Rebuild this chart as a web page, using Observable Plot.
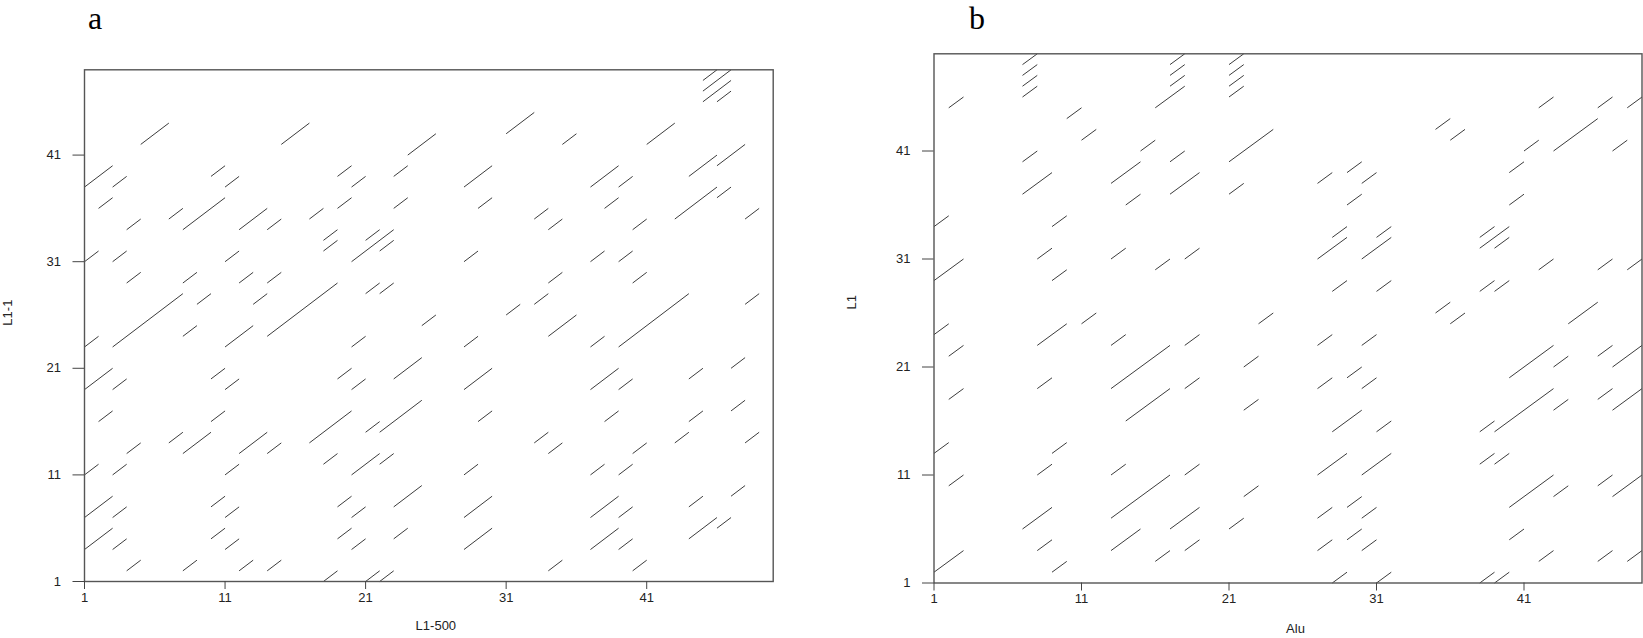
<!DOCTYPE html>
<html><head><meta charset="utf-8">
<script src="https://cdn.jsdelivr.net/npm/d3@7"></script>
<script src="https://cdn.jsdelivr.net/npm/@observablehq/plot@0.6"></script>
<style>
body{margin:0;background:#fff;}
#wrap{position:relative;width:1643px;height:638px;overflow:hidden;background:#fff;}
.panel{position:absolute;top:0;}
.letter{position:absolute;top:1px;font-family:"Liberation Serif",serif;font-size:32px;line-height:35.5px;color:#000;}
</style></head><body>
<div id="wrap">
<div class="letter" style="left:88px">a</div>
<div class="letter" style="left:969px">b</div>
</div>
<script>
// Tick values shared by both panels
const tickValues = [1, 11, 21, 31, 41];

// Panel a: L1-500 (x) vs L1-1 (y); each match is a diagonal from (x, y) to (x+len, y+len)
const aLabelX = "L1-500";
const aLabelY = "L1-1";
const aX = [5,15,24,1,3,2,10,11,4,7,8,12,14,17,19,20,19,23,23,18,18,21,20,22,1,3,11,4,8,12,14,9,13,21,22,3,14,25,
  1,8,11,20,1,3,10,11,19,20,23,2,10,17,21,22,7,8,4,12,14,18,20,22,1,3,11,1,3,10,11,19,20,23,1,3,10,11,19,20,23,4,8,12,14,18,21,22,
  31,35,41,28,29,33,34,37,39,38,40,44,46,43,46,48,28,37,39,34,40,31,33,34,39,48,45,45,45,46,
  28,37,28,37,39,44,47,29,38,44,47,33,34,40,43,48,28,37,39,28,37,39,44,47,28,37,39,44,46,34,40];
const aY = [42,42,41,38,38,36,39,38,34,35,34,34,34,35,39,38,36,39,36,33,32,33,31,32,31,31,31,29,29,29,29,27,27,28,28,23,24,25,
  23,24,23,23,19,19,20,19,20,19,20,16,16,14,15,15,14,13,13,13,13,12,11,12,11,11,11,7,7,8,7,8,7,8,4,4,5,4,5,4,5,2,2,2,2,1,1,1,
  43,42,42,38,36,35,34,38,38,36,34,39,40,35,37,35,31,31,31,29,29,26,27,24,23,27,48,47,46,46,
  23,23,19,19,19,20,21,16,16,16,17,14,13,13,14,14,11,11,11,7,7,7,8,9,4,4,4,5,6,2,2];
const aLen = [2,2,2,2,1,1,1,1,1,1,3,2,1,1,1,1,1,1,1,1,1,1,3,1,1,1,1,1,1,1,1,1,1,1,1,5,5,1,
  1,1,2,1,2,1,1,1,1,1,2,1,1,3,1,3,1,2,1,2,1,1,2,1,1,1,1,2,1,1,1,1,1,2,2,1,1,1,1,1,1,1,1,1,1,1,1,1,
  2,1,2,2,1,1,1,2,1,1,1,2,2,3,1,1,1,1,1,1,1,1,1,2,5,1,1,2,2,1,
  1,1,2,2,1,1,1,1,1,1,1,1,1,1,1,1,1,1,1,2,2,1,1,1,2,2,1,2,1,1,1];

// Panel b: Alu (x) vs L1 (y)
const bLabelX = "Alu";
const bLabelY = "L1";
const bX = [7,7,7,7,17,17,17,16,21,21,21,21,2,10,11,15,7,17,21,7,13,17,14,21,1,9,1,8,13,16,18,9,
  42,46,48,35,36,41,43,47,40,40,27,29,30,29,28,27,31,30,38,38,39,28,31,38,39,42,46,48,35,36,44,
  1,2,2,8,11,13,13,14,18,18,8,23,22,22,1,9,2,8,13,18,13,17,22,7,21,8,13,18,16,9,1,
  27,30,29,27,30,28,31,27,30,27,29,30,27,29,30,28,31,38,39,38,39,40,43,46,47,43,46,47,40,43,46,47,40,42,46,48,38,39];
const bY = [49,48,47,46,49,48,47,45,49,48,47,46,45,44,42,41,40,40,40,37,38,37,36,37,34,34,29,31,31,30,31,29,
  45,45,45,43,42,41,41,41,39,36,38,39,38,36,33,31,33,31,33,32,32,28,28,28,28,30,30,30,26,25,25,
  24,22,18,23,25,23,19,16,23,19,19,25,21,17,13,13,10,11,11,11,7,6,9,6,6,4,4,4,3,2,2,
  23,23,20,19,19,15,15,11,11,7,8,7,4,5,4,1,1,15,15,12,12,20,21,22,21,17,18,17,8,9,10,9,5,3,3,3,1,1];
const bLen = [1,1,1,1,1,1,1,2,1,1,1,1,1,1,1,1,1,1,3,2,2,2,1,1,1,1,2,1,1,1,1,1,
  1,1,1,1,1,1,3,1,1,1,1,1,1,1,1,2,1,2,1,2,1,1,1,1,1,1,1,1,1,1,2,
  1,1,1,2,1,1,4,3,1,1,1,1,1,1,1,1,1,1,1,1,4,2,1,2,1,1,2,1,1,1,2,
  1,1,1,1,1,2,1,2,2,1,1,1,1,1,1,1,1,1,4,1,1,3,1,1,2,1,1,2,3,1,1,2,1,1,1,1,1,1];

function toSegs(xs, ys, ls) {
  return xs.map((x, i) => ({x1: x, y1: ys[i], x2: x + ls[i], y2: ys[i] + ls[i]}));
}

function panel(o) {
  return Plot.plot({
    width: o.width, height: o.height,
    marginLeft: o.ml, marginRight: o.mr, marginTop: o.mt, marginBottom: o.mb,
    style: {fontFamily: '"Liberation Sans", Arial, sans-serif', fontSize: "13px", color: "#222", background: "transparent", overflow: "visible"},
    x: {domain: o.xDomain},
    y: {domain: o.yDomain},
    marks: [
      Plot.link(o.segs, {x1: "x1", y1: "y1", x2: "x2", y2: "y2", stroke: "#3c3c3c", strokeWidth: 1}),
      Plot.frame({stroke: "#555", strokeWidth: 1.4}),
      Plot.axisX({ticks: tickValues, tickFormat: d => String(d), tickSize: 8, tickPadding: 3, label: null, stroke: "#444"}),
      Plot.axisY({ticks: tickValues, tickFormat: d => String(d), tickSize: 11.5, tickPadding: 12, label: null, stroke: "#444"}),
      Plot.text([o.xLabel], {text: d => d, frameAnchor: "bottom", dx: o.xdx, dy: o.xdy, fill: "#222"}),
      Plot.text([o.yLabel], {text: d => d, frameAnchor: "left", rotate: -90, dx: o.ydx, dy: o.ydy, fill: "#222"})
    ]
  });
}

const wrap = document.getElementById("wrap");
const pa = panel({
  segs: toSegs(aX, aY, aLen), xDomain: [1, 50], yDomain: [1, 49],
  width: 820, height: 638, ml: 84, mr: 47.3, mt: 69.3, mb: 57,
  xLabel: aLabelX, yLabel: aLabelY, xdx: 7, xdy: 48.8, ydx: -76.7, ydy: 0
});
pa.classList.add("panel"); pa.style.left = "0px";
wrap.appendChild(pa);
const pb = panel({
  segs: toSegs(bX, bY, bLen), xDomain: [1, 49], yDomain: [1, 50],
  width: 823, height: 638, ml: 113.5, mr: 1.5, mt: 53.3, mb: 55.5,
  xLabel: bLabelX, yLabel: bLabelY, xdx: 7.5, xdy: 49.8, ydx: -82.5, ydy: -9
});
pb.classList.add("panel"); pb.style.left = "820px";
wrap.appendChild(pb);
</script>
</body></html>
